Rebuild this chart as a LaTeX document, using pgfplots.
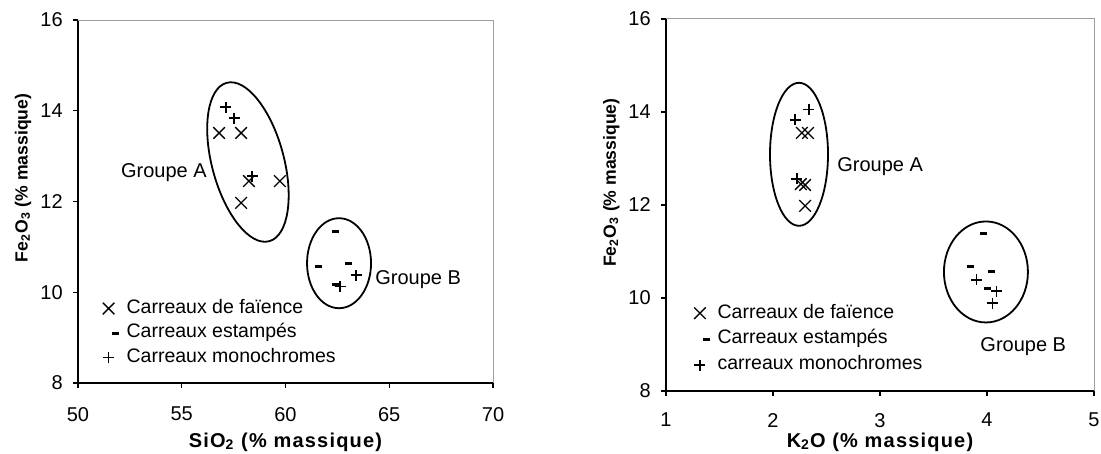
\documentclass[border=0pt]{standalone}
\usepackage{pgfplots}
\pgfplotsset{compat=1.18}
\usepackage{fontspec}
\setmainfont{Liberation Sans}
\newfontfamily\xlabfont[LetterSpace=6]{Liberation Sans Bold}
\newfontfamily\ylabfont{Liberation Sans Bold}

\pgfplotsset{
  base/.style={
    scale only axis,
    axis x line*=bottom, axis y line*=left,
    axis line style={-, line width=0.65pt, black},
    tick align=outside, major tick length=2.5pt,
    tick style={black, line width=0.65pt},
    minor tick num=0,
    /pgf/number format/assume math mode=true,
    tick label style={font=\fontsize{10}{12}\selectfont},
    yticklabel style={xshift=-1.6pt},
    ymin=8, ymax=16, ytick={8,10,12,14,16},
    clip=false,
    legend cell align=left,
  },
  sx/.style={only marks, mark=x, mark size=4.1pt, mark options={line width=0.65pt, black},
    legend image code/.code={\path (-3.5pt,0pt) (3.5pt,0pt); \draw[##1] plot coordinates {(0pt,0pt)};}},
  sd/.style={only marks, mark=-, mark size=1.75pt, mark options={line width=1.5pt, black},
    legend image code/.code={\path (-3.5pt,0pt) (3.5pt,0pt); \draw[##1] plot coordinates {(3.5pt,0pt)};}},
  sp/.style={only marks, mark=+, mark size=2.75pt, mark options={line width=0.65pt, black},
    legend image code/.code={\path (-3.5pt,0pt) (3.5pt,0pt); \draw[##1] plot coordinates {(0pt,0pt)};}},
}

\begin{document}
\begin{tikzpicture}
\useasboundingbox (0pt,0pt) rectangle (550.5pt,227pt);

% ---------------- Left chart ----------------
\begin{axis}[base,
  at={(39pt,35.5pt)}, anchor=south west,
  width=207.5pt, height=181.5pt,
  xmin=50, xmax=70, xtick={50,55,60,65,70},
  xticklabel style={yshift=-6pt},
  xlabel={\fontsize{10}{12}\xlabfont SiO\textsubscript{2} (\% massique)},
  xlabel style={at={(axis description cs:0.5,0)}, anchor=base, yshift=-32pt},
  ylabel={\fontsize{8.8}{10}\ylabfont Fe\textsubscript{2}O\textsubscript{3} (\% massique)},
  ylabel style={at={(axis description cs:-0.1325,0.565)}, rotate=0, anchor=center},
  legend style={draw=none, fill=none, at={(axis description cs:0.055,0.24)}, anchor=north west,
    font=\fontsize{9.75}{12}\selectfont, row sep=0pt, column sep=2.5pt, inner sep=0pt,
    nodes={inner sep=1.25pt, text height=7.3pt, text depth=2.45pt}},
]
\draw[gray!75, line width=0.5pt] (rel axis cs:0,1) -- (rel axis cs:1,1) -- (rel axis cs:1,0);
\addplot[sx] coordinates {(56.80,13.51) (57.86,13.51) (58.24,12.45) (59.73,12.45) (57.86,11.97)};
\addlegendentry{Carreaux de faïence}
\addplot[sd] coordinates {(62.39,11.33) (61.61,10.56) (63.06,10.64) (62.43,10.18)};
\addlegendentry{Carreaux estampés}
\addplot[sp] coordinates {(57.13,14.08) (57.52,13.84) (58.39,12.56) (63.40,10.38) (62.63,10.12)};
\addlegendentry{Carreaux monochromes}
\draw[line width=0.9pt, rotate around={15:(axis cs:58.19,12.87)}] (axis cs:58.19,12.87) ellipse [x radius=18pt, y radius=41pt];
\draw[line width=0.9pt] (axis cs:62.58,10.64) ellipse [x radius=16pt, y radius=22.5pt];
\node[anchor=base east, inner sep=0pt, font=\fontsize{10}{12}\selectfont] at (axis cs:56.22,12.54) {Groupe A};
\node[anchor=base west, inner sep=0pt, font=\fontsize{10}{12}\selectfont] at (axis cs:64.31,10.18) {Groupe B};
\end{axis}

% ---------------- Right chart ----------------
\begin{axis}[base,
  at={(333pt,31.5pt)}, anchor=south west,
  width=214pt, height=186pt,
  xmin=1, xmax=5, xtick={1,2,3,4,5},
  xticklabel style={yshift=-5pt},
  xlabel={\fontsize{10}{12}\xlabfont K\textsubscript{2}O (\% massique)},
  xlabel style={at={(axis description cs:0.5,0)}, anchor=base, yshift=-28pt},
  ylabel={\fontsize{8.8}{10}\ylabfont Fe\textsubscript{2}O\textsubscript{3} (\% massique)},
  ylabel style={at={(axis description cs:-0.128,0.56)}, rotate=0, anchor=center},
  legend style={draw=none, fill=none, at={(axis description cs:0.061,0.245)}, anchor=north west,
    font=\fontsize{9.75}{13}\selectfont, row sep=0pt, column sep=2pt, inner sep=0pt,
    nodes={inner sep=1.6pt, text height=7.3pt, text depth=2.45pt}},
]
\draw[gray!75, line width=0.5pt] (rel axis cs:0,1) -- (rel axis cs:1,1) -- (rel axis cs:1,0);
\addplot[sx] coordinates {(2.27,13.55) (2.327,13.55) (2.26,12.45) (2.30,12.43) (2.30,11.98)};
\addlegendentry{Carreaux de faïence}
\addplot[sd] coordinates {(3.963,11.38) (3.85,10.67) (4.04,10.58) (4.0,10.21)};
\addlegendentry{Carreaux estampés}
\addplot[sp] coordinates {(2.336,14.06) (2.206,13.83) (2.224,12.56) (3.90,10.39) (4.09,10.15) (4.05,9.89)};
\addlegendentry{carreaux monochromes}
\draw[line width=0.9pt] (axis cs:2.243,13.09) ellipse [x radius=14.5pt, y radius=35.75pt];
\draw[line width=0.9pt] (axis cs:3.99,10.56) ellipse [x radius=21pt, y radius=25.25pt];
\node[anchor=base west, inner sep=0pt, font=\fontsize{10}{12}\selectfont] at (axis cs:2.598,12.71) {Groupe A};
\node[anchor=base west, inner sep=0pt, font=\fontsize{10}{12}\selectfont] at (axis cs:3.935,8.84) {Groupe B};
\end{axis}
\end{tikzpicture}
\end{document}
